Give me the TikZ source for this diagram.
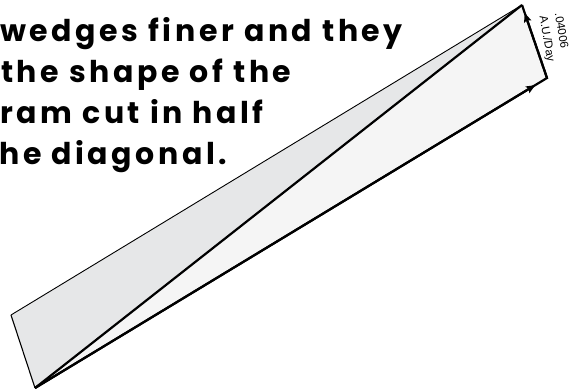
\documentclass[tikz,border=0pt]{standalone}
\usepackage{fontspec}
\newfontfamily\txtfont[LetterSpace=12]{Poppins}
\newfontfamily\lblfont{Liberation Sans}
\usetikzlibrary{arrows.meta,calc}
\definecolor{upfill}{HTML}{E6E7E8}
\definecolor{lowfill}{HTML}{F5F5F5}
\tikzset{
  bigtext/.style={anchor=base west, inner sep=0pt, font=\txtfont\bfseries\fontsize{30}{36}\selectfont},
  heavy/.style={line width=2.2pt},
  vecarrow/.style={heavy, -{Stealth[length=9pt,width=7.5pt,inset=1.5pt]}},
  lbl/.style={font=\lblfont\fontsize{11.5}{15.5}\selectfont, align=left, inner sep=0pt}
}
\begin{document}
\begin{tikzpicture}[x=1pt,y=1pt]
\useasboundingbox (0,0) rectangle (582,391);
\coordinate (A) at (35,3);
\coordinate (B) at (11,76);
\coordinate (C) at (522,386);
\coordinate (D) at (547,313);
\fill[upfill] (A) -- (B) -- (C) -- cycle;
\fill[lowfill] (A) -- (C) -- (D) -- cycle;
\draw[line width=0.9pt] (B) -- (C);
\draw[line width=1.1pt] (A) -- (B);
\draw[heavy] (A) -- (C);
\draw[heavy] (A) -- (D) -- (C);
\draw[vecarrow] (A) -- ($(A)!0.977!(D)$);
\draw[vecarrow] (D) -- ($(D)!0.89!(C)$);
\node[lbl, rotate=-80] (lab) at (554,353.5) {.04006\\A.U./Day};
\node[bigtext] (t1) at (0,349) {wedges finer and they};
\node[bigtext] (t2) at (1,308) {the shape of the};
\node[bigtext] (t3) at (0,267) {ram cut in half};
\node[bigtext] (t4) at (-1,226) {he diagonal.};
\end{tikzpicture}
\end{document}
